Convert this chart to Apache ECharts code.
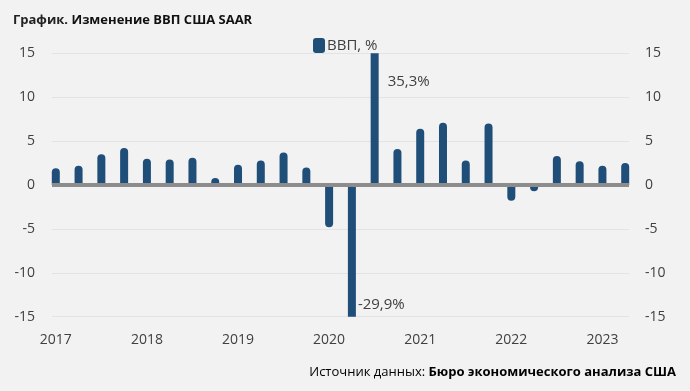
<!DOCTYPE html>
<html><head><meta charset="utf-8">
<script src="https://cdn.jsdelivr.net/npm/echarts@6/dist/echarts.min.js"></script>
<style>html,body{margin:0;padding:0;background:#f2f2f2}#c{width:690px;height:391px}</style>
</head><body><div id="c"></div>
<script>
const quarters = ['2017Q1','2017Q2','2017Q3','2017Q4','2018Q1','2018Q2','2018Q3','2018Q4','2019Q1','2019Q2','2019Q3','2019Q4','2020Q1','2020Q2','2020Q3','2020Q4','2021Q1','2021Q2','2021Q3','2021Q4','2022Q1','2022Q2','2022Q3','2022Q4','2023Q1','2023Q2'];
const gdp = [1.9,2.2,3.5,4.2,3.0,2.9,3.1,0.8,2.3,2.8,3.7,2.0,-4.8,-29.9,35.3,4.1,6.4,7.1,2.8,7.0,-1.8,-0.7,3.3,2.7,2.2,2.5];
const yearLabels = ['2017','2018','2019','2020','2021','2022','2023'];
const yTicks = [-15,-10,-5,0,5,10,15];
const notes = [{q:'2020Q3', text:'35,3%', at:11.8, dist:13},{q:'2020Q2', text:'-29,9%', at:-13.6, dist:6}];

const FONT = '"Open Sans", sans-serif';
const YMIN = yTicks[0], YMAX = yTicks[yTicks.length-1];
const chart = echarts.init(document.getElementById('c'));
const barData = gdp.map((v,i)=>{
  const clipped = v > YMAX || v < YMIN;
  return {value:[i,v], itemStyle:{borderRadius: clipped ? 0 : (v>=0 ? [4,4,0,0] : [0,0,4,4])}};
});
chart.setOption({
  backgroundColor:'#f2f2f2',
  animation:false,
  textStyle:{fontFamily:FONT},
  title:{
    left:8, top:9,
    text:'{r|График. }{b|Изменение ВВП США SAAR}',
    textStyle:{rich:{r:{fontFamily:FONT,fontSize:13,color:'#222'},b:{fontFamily:FONT,fontSize:13,fontWeight:'bold',color:'#111'}}}
  },
  legend:{
    left:308, top:33, itemWidth:12, itemHeight:15, icon:'roundRect', itemGap:5,
    textStyle:{fontFamily:FONT,fontSize:15,color:'#404040',padding:[0,0,0,-3]},
    data:['ВВП, %']
  },
  graphic:[{type:'text', right:14, top:366, style:{
    text:'{r|Источник данных: }{b|Бюро экономического анализа США}',
    rich:{r:{fontFamily:FONT,fontSize:13,color:'#222'},b:{fontFamily:FONT,fontSize:13,fontWeight:'bold',color:'#111'}}
  }}],
  grid:{left:52, right:61, top:53.3, bottom:74.3},
  xAxis:{
    type:'value', min:-0.167, max:quarters.length-1+0.167,
    axisLine:{show:false}, axisTick:{show:false}, splitLine:{show:false},
    axisLabel:{customValues:yearLabels.map((y,i)=>i*4), formatter:v=>yearLabels[Math.round(v/4)],
      fontSize:14, color:'#404040', margin:16, fontFamily:FONT}
  },
  yAxis:[
    {type:'value', min:YMIN, max:YMAX, interval:5, position:'left',
     axisLine:{show:false}, axisTick:{show:false},
     splitLine:{lineStyle:{color:'#e3e3e3',width:1}},
     axisLabel:{fontSize:14,color:'#404040',margin:17,fontFamily:FONT}},
    {type:'value', min:YMIN, max:YMAX, interval:5, position:'right',
     axisLine:{show:false}, axisTick:{show:false}, splitLine:{show:false},
     axisLabel:{fontSize:14,color:'#404040',margin:16,fontFamily:FONT}}
  ],
  series:[{
    name:'ВВП, %', type:'bar', barWidth:8, clip:true,
    itemStyle:{color:'#1f4e79'},
    data:barData,
    markLine:{silent:true, symbol:'none', label:{show:false},
      lineStyle:{color:'#8c8c8c', width:4, type:'solid'},
      data:[{yAxis:0}]},
    markPoint:{silent:true, symbol:'circle', symbolSize:0,
      data:notes.map(n=>({coord:[quarters.indexOf(n.q), n.at],
        label:{show:true, position:'right', distance:n.dist, formatter:n.text, fontSize:15, color:'#404040', fontFamily:FONT}}))}
  }]
});
</script></body></html>
